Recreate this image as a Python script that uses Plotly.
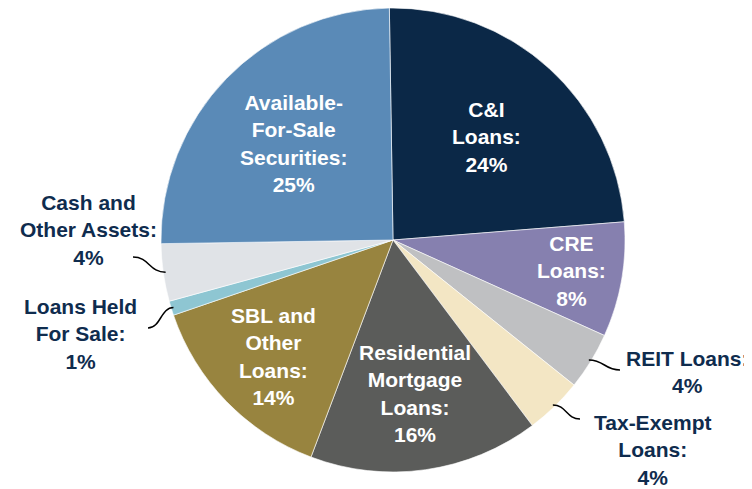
import math
import plotly.graph_objects as go

# ---- data ----
categories = ["C&I Loans", "CRE Loans", "REIT Loans", "Tax-Exempt Loans",
              "Residential Mortgage Loans", "SBL and Other Loans",
              "Loans Held For Sale", "Cash and Other Assets",
              "Available-For-Sale Securities"]
values = [24, 8, 4, 4, 16, 14, 1, 4, 25]
display_names = ["C&I<br>Loans", "CRE<br>Loans", "REIT Loans", "Tax-Exempt<br>Loans",
                 "Residential<br>Mortgage<br>Loans", "SBL and<br>Other<br>Loans",
                 "Loans Held<br>For Sale", "Cash and<br>Other Assets",
                 "Available-<br>For-Sale<br>Securities"]
colors = ["#0b2847", "#8680af", "#bfc0c2", "#f3e6c4", "#5b5c5a",
          "#98843f", "#8ec6d2", "#e0e3e7", "#5a8ab7"]

# ---- layout constants (screen pixels) ----
W, H = 752, 489
OFF = 8  # page body margin offset
CX, CY, R = 393, 240, 232
START = -0.9  # degrees clockwise from 12 o'clock
NAVY = "#0f2c4e"
FONT = "Liberation Sans, Arial, sans-serif"
FS = 21

# inside labels: radial fraction per slice (None = outside label)
inside_frac = [0.60, 0.78, None, None, 0.67, 0.72, None, None, 0.60]
# outside labels: (text center x, text center y, leader end x, leader end y)
outside_pos = {
    2: (687, 372, 620, 370),
    3: (652, 450, 580, 419),
    6: (80, 334, 148, 328),
    7: (88, 230, 133, 257),
}


def px(x):
    return (x - OFF) / W


def py(y):
    return 1 - (y - OFF) / H


fig = go.Figure(go.Pie(
    labels=categories, values=values, sort=False, direction="clockwise",
    rotation=START, textinfo="none", hoverinfo="label+percent",
    marker=dict(colors=colors, line=dict(color="white", width=0.6)),
    domain=dict(x=[px(CX - R), px(CX + R)],
                y=[py(CY + R), min(1.0, py(CY - R))]),
    showlegend=False,
))

total = sum(values)
annotations = []
shapes = []
acc = 0.0
for i, v in enumerate(values):
    a0 = START + 360 * acc / total
    acc += v
    a1 = START + 360 * acc / total
    mid = math.radians((a0 + a1) / 2)
    text = f"<b>{display_names[i]}:<br>{v}%</b>"
    if inside_frac[i] is not None:
        r = R * inside_frac[i]
        x = CX + r * math.sin(mid)
        y = CY - r * math.cos(mid)
        annotations.append(dict(x=px(x), y=py(y), xref="paper", yref="paper",
                                text=text, showarrow=False,
                                xanchor="center", yanchor="middle",
                                font=dict(family=FONT, size=FS, color="white")))
    else:
        tx, ty, ex, ey = outside_pos[i]
        sx = CX + R * 0.99 * math.sin(mid)
        sy = CY - R * 0.99 * math.cos(mid)
        xm = (sx + ex) / 2
        path = (f"M {px(sx)},{py(sy)} C {px(xm)},{py(sy)} {px(xm)},{py(ey)} "
                f"{px(ex)},{py(ey)}")
        shapes.append(dict(type="path", path=path, xref="paper", yref="paper",
                           line=dict(color="black", width=1.5)))
        annotations.append(dict(x=px(tx), y=py(ty), xref="paper", yref="paper",
                                text=text, showarrow=False,
                                xanchor="center", yanchor="middle",
                                font=dict(family=FONT, size=FS, color=NAVY)))

fig.update_layout(
    width=W, height=H, margin=dict(l=0, r=0, t=0, b=0),
    paper_bgcolor="white", plot_bgcolor="white",
    annotations=annotations, shapes=shapes,
    font=dict(family=FONT),
)
fig.write_html("out.html")
